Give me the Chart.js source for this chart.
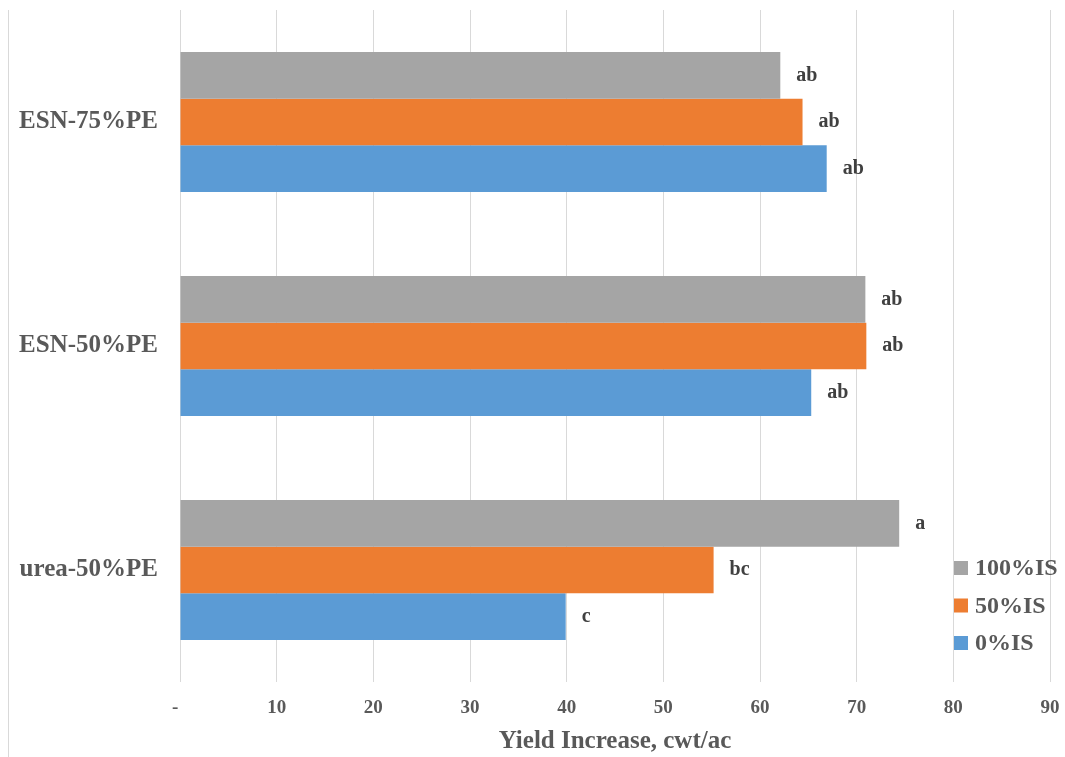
<!DOCTYPE html>
<html>
<head>
<meta charset="utf-8">
<script src="https://cdn.jsdelivr.net/npm/chart.js@4"></script>
<style>
  html, body { margin: 0; padding: 0; background: #fff; }
  #wrap { position: relative; width: 1065px; height: 757px; }
  #frame { position: absolute; left: 8px; top: 10px; bottom: 0; border-left: 1px solid #d9d9d9; }
  canvas { position: absolute; left: 0; top: 0; }
</style>
</head>
<body>
<div id="wrap">
  <div id="frame"></div>
  <canvas id="yieldChart" width="1065" height="757"></canvas>
</div>
<script>
// Data
const categories = ["ESN-75%PE", "ESN-50%PE", "urea-50%PE"];
const seriesNames = ["100%IS", "50%IS", "0%IS"];
const is100 = [62.1, 70.9, 74.4];
const is50 = [64.4, 71.0, 55.2];
const is0 = [66.9, 65.3, 39.9];
const letters100 = ["ab", "ab", "a"];
const letters50 = ["ab", "ab", "bc"];
const letters0 = ["ab", "ab", "c"];
const xTicks = [0, 10, 20, 30, 40, 50, 60, 70, 80, 90];

const colors = ["#a5a5a5", "#ed7d31", "#5b9bd5"];
const textColor = "#595959";
const serif = "'Liberation Serif', 'Times New Roman', serif";

const data = {
  labels: categories,
  datasets: [
    { label: seriesNames[0], data: is100, letters: letters100, backgroundColor: colors[0] },
    { label: seriesNames[1], data: is50, letters: letters50, backgroundColor: colors[1] },
    { label: seriesNames[2], data: is0, letters: letters0, backgroundColor: colors[2] },
  ],
};

// significance letters at bar ends
const letterPlugin = {
  id: "letters",
  afterDatasetsDraw(chart) {
    const ctx = chart.ctx;
    ctx.save();
    ctx.font = "bold 20px " + serif;
    ctx.fillStyle = "#404040";
    ctx.textAlign = "left";
    ctx.textBaseline = "middle";
    chart.data.datasets.forEach((ds, i) => {
      chart.getDatasetMeta(i).data.forEach((bar, j) => {
        ctx.fillText(ds.letters[j], bar.x + 16, bar.y);
      });
    });
    ctx.restore();
  },
};

// legend inside the plot, lower right
const legendPlugin = {
  id: "boxLegend",
  afterDraw(chart) {
    const ctx = chart.ctx;
    ctx.save();
    ctx.font = "bold 24px " + serif;
    ctx.textBaseline = "middle";
    ctx.textAlign = "left";
    chart.data.datasets.forEach((ds, i) => {
      const y = 568 + i * 37.5;
      ctx.fillStyle = ds.backgroundColor;
      ctx.fillRect(954, y - 7, 14, 14);
      ctx.fillStyle = textColor;
      ctx.fillText(ds.label, 975, y + 1);
    });
    ctx.restore();
  },
};

const config = {
  type: "bar",
  data: data,
  options: {
    indexAxis: "y",
    responsive: false,
    animation: false,
    layout: { padding: { left: 0, right: 15, top: 10, bottom: 0 } },
    datasets: {
      bar: { categoryPercentage: 0.625, barPercentage: 1.0 },
    },
    plugins: {
      legend: { display: false },
      tooltip: { enabled: false },
    },
    scales: {
      x: {
        min: 0,
        max: 90,
        afterBuildTicks(scale) {
          scale.ticks = xTicks.map((v) => ({ value: v }));
        },
        afterFit(scale) {
          scale.height = 75;
          scale.paddingLeft = 0;
          scale.paddingRight = 0;
        },
        grid: { color: "#d9d9d9", lineWidth: 1, drawTicks: false },
        border: { display: false },
        ticks: {
          padding: 15,
          color: textColor,
          font: { family: serif, size: 19, weight: "bold" },
          callback: (v) => (v === 0 ? "-  " : v),
        },
        title: {
          display: true,
          text: "Yield Increase, cwt/ac",
          color: textColor,
          font: { family: serif, size: 25, weight: "bold" },
          padding: { top: 0, bottom: 0 },
        },
      },
      y: {
        afterFit(scale) {
          scale.width = 180;
          scale.paddingTop = 0;
          scale.paddingBottom = 0;
        },
        grid: { display: false, drawTicks: false },
        border: { display: false },
        ticks: {
          padding: 22,
          color: textColor,
          font: { family: serif, size: 25, weight: "bold" },
        },
      },
    },
  },
  plugins: [letterPlugin, legendPlugin],
};

const yieldChart = new Chart(document.getElementById("yieldChart"), config);
</script>
</body>
</html>
